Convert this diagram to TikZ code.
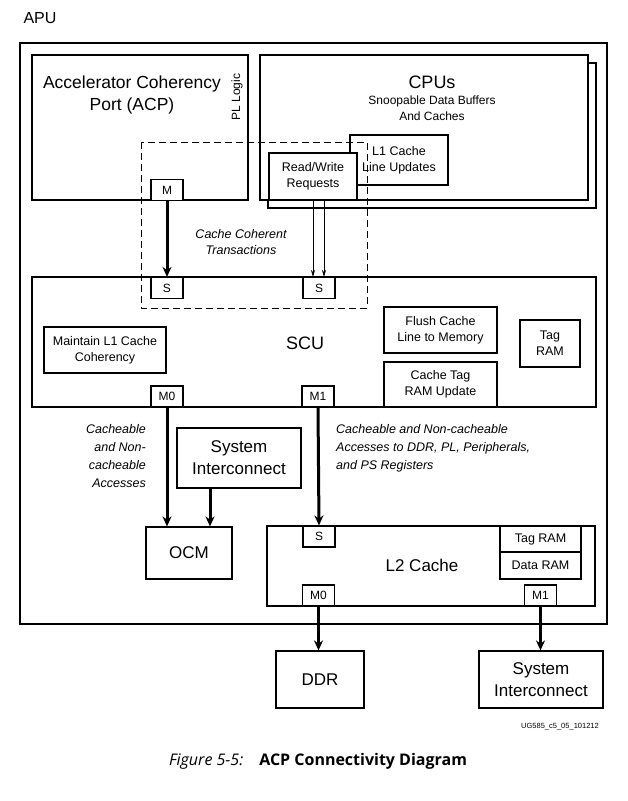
\documentclass[tikz,border=0pt]{standalone}
\usepackage{fontspec}
\setmainfont{Liberation Sans}
\newfontfamily\capfont{Open Sans}
\usetikzlibrary{arrows.meta}
\begin{document}
\begin{tikzpicture}[x=1pt,y=-1pt,
  bx/.style={draw,line width=1.2pt},
  port/.style={draw,line width=1.2pt,minimum width=32pt,minimum height=21pt,inner sep=0pt,font=\fontsize{12}{13}\selectfont},
  thick arr/.style={line width=3pt,-{Stealth[length=10pt,width=9pt]}},
  thin arr/.style={line width=0.6pt,-{Stealth[length=7pt,width=4pt]}},
  lbl/.style={align=center,font=\fontsize{12.5}{16}\selectfont},
  it/.style={font=\fontsize{12.5}{18}\selectfont\itshape}]
\useasboundingbox (0,0) rectangle (627,801);
\node[anchor=west,font=\fontsize{16}{18}\selectfont] (apu) at (20,18) {APU};
\draw[line width=1.3pt] (20,43) rectangle (607,624);
% ACP
\draw[bx] (32,55) rectangle (248,200);
\node[lbl,font=\fontsize{17.5}{22}\selectfont] (acp) at (132,95) {Accelerator Coherency\\Port (ACP)};
\node[rotate=90,font=\fontsize{12}{12}\selectfont] (pl) at (237,97) {PL Logic};
% CPUs
\draw[bx,fill=white] (268,63) rectangle (596,208);
\draw[bx,fill=white] (260,55) rectangle (588,200);
\node[font=\fontsize{18}{19}\selectfont] (cpu) at (432,82) {CPUs};
\node[lbl,font=\fontsize{12}{16}\selectfont] (snoop) at (432,108) {Snoopable Data Buffers\\And Caches};
\node[bx,fill=white,minimum width=98pt,minimum height=50pt,lbl,inner sep=0pt] (l1) at (399,160) {L1 Cache\\Line Updates};
\node[bx,fill=white,minimum width=88pt,minimum height=47pt,lbl,inner sep=0pt] (rw) at (313,176.5) {Read/Write\\Requests};
% dashed
\draw[dash pattern=on 7pt off 4pt,line width=0.6pt] (141,142) rectangle (367,308);
\node[port,fill=white] (m) at (167,190) {M};
% SCU
\draw[bx] (32,277) rectangle (596,407);
\node[port,fill=white] (s1) at (167,288) {S};
\node[port,fill=white] (s2) at (319,288) {S};
\node[align=center,font=\fontsize{12.5}{16}\selectfont\itshape] (cct) at (241,242) {Cache Coherent\\Transactions};
\draw[thin arr] (rw.south) -- (rw.south |- s2.north);
\draw[thin arr] ([xshift=11pt]rw.south) -- ([xshift=11pt]rw.south |- s2.north);
\draw[thick arr] (m.south) -- (s1.north);
\node[bx,lbl,minimum width=122pt,minimum height=46pt,inner sep=0pt] (ml1) at (105,350) {Maintain L1 Cache\\Coherency};
\node[font=\fontsize{18}{19}\selectfont] (scu) at (305,343) {SCU};
\node[bx,lbl,minimum width=113pt,minimum height=46pt,inner sep=0pt] (fl) at (440.5,330) {Flush Cache\\Line to Memory};
\node[bx,lbl,minimum width=113pt,minimum height=45pt,inner sep=0pt] (ctr) at (440.5,384.5) {Cache Tag\\RAM Update};
\node[bx,lbl,minimum width=60pt,minimum height=47pt,inner sep=0pt] (tr) at (550,343.5) {Tag\\RAM};
\node[port] (m0) at (167,396.5) {M0};
\node[port] (m1) at (318,396.5) {M1};
% middle
\node[it,align=right,anchor=north east,inner sep=0pt] (lt) at (146,424) {Cacheable\\and Non-\\cacheable\\Accesses};
\node[it,align=left,anchor=north west,inner sep=0pt] (rt) at (336,424) {Cacheable and Non-cacheable\\Accesses to DDR, PL, Peripherals,\\and PS Registers};
\node[bx,lbl,font=\fontsize{17}{22}\selectfont,minimum width=124pt,minimum height=60pt,inner sep=0pt] (si1) at (239,458) {System\\Interconnect};
\node[bx,minimum width=86pt,minimum height=52pt,font=\fontsize{17}{18}\selectfont,inner sep=0pt] (ocm) at (189,553) {OCM};
\draw[thick arr] (m0.south) -- (m0.south |- ocm.north);
\draw[thick arr] (si1.south -| 210,0) -- (ocm.north -| 210,0);
% L2
\draw[bx] (267,526) rectangle (595,606);
\node[port] (ls) at (319,536.5) {S};
\draw[thick arr] (m1.south) -- (ls.north);
\node[font=\fontsize{17}{18}\selectfont] (l2) at (422,565) {L2 Cache};
\node[bx,lbl,minimum width=81pt,minimum height=26pt,inner sep=0pt] (tag2) at (540.5,539) {Tag RAM};
\node[bx,lbl,minimum width=81pt,minimum height=27pt,inner sep=0pt] (dr) at (540.5,565.5) {Data RAM};
\node[port] (lm0) at (318.5,595.5) {M0};
\node[port] (lm1) at (540.5,595.5) {M1};
\node[bx,minimum width=88pt,minimum height=57pt,font=\fontsize{17}{18}\selectfont,inner sep=0pt] (ddr) at (320,679.5) {DDR};
\node[bx,lbl,font=\fontsize{17}{22}\selectfont,minimum width=124pt,minimum height=57pt,inner sep=0pt] (si2) at (541,679.5) {System\\Interconnect};
\draw[thick arr] (lm0.south) -- (lm0.south |- ddr.north);
\draw[thick arr] (lm1.south) -- (lm1.south |- si2.north);
\node[font=\fontsize{7.5}{8}\selectfont] (ug) at (560,727) {UG585\_c5\_05\_101212};
\node[font=\capfont\fontsize{16}{18}\selectfont] (cap) at (318,761) {\textit{Figure 5-5:}\quad\textbf{ACP Connectivity Diagram}};
\end{tikzpicture}
\end{document}
